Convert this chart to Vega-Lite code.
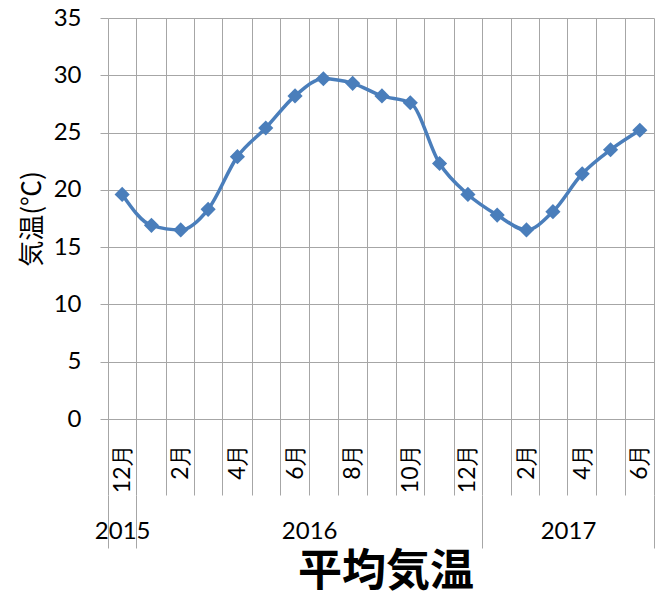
{
  "$schema": "https://vega.github.io/schema/vega-lite/v6.json",
  "width": 546,
  "height": 401,
  "autosize": {"type": "none"},
  "padding": {"left": 108, "top": 18, "right": 10, "bottom": 179},
  "background": "white",
  "config": {"view": {"stroke": null}, "font": "Lato"},
  "title": {"text": "平均気温", "orient": "bottom", "anchor": "middle", "font": "Noto Sans CJK JP", "fontSize": 44, "fontWeight": "bold", "offset": 2, "dx": 5, "color": "#000000"},
  "data": {"values": [
    {"date": "2015-12-01", "temp": 19.6},
    {"date": "2016-01-01", "temp": 16.9},
    {"date": "2016-02-01", "temp": 16.5},
    {"date": "2016-03-01", "temp": 18.3},
    {"date": "2016-04-01", "temp": 22.9},
    {"date": "2016-05-01", "temp": 25.4},
    {"date": "2016-06-01", "temp": 28.2},
    {"date": "2016-07-01", "temp": 29.7},
    {"date": "2016-08-01", "temp": 29.3},
    {"date": "2016-09-01", "temp": 28.2},
    {"date": "2016-10-01", "temp": 27.6},
    {"date": "2016-11-01", "temp": 22.3},
    {"date": "2016-12-01", "temp": 19.6},
    {"date": "2017-01-01", "temp": 17.8},
    {"date": "2017-02-01", "temp": 16.5},
    {"date": "2017-03-01", "temp": 18.1},
    {"date": "2017-04-01", "temp": 21.4},
    {"date": "2017-05-01", "temp": 23.5},
    {"date": "2017-06-01", "temp": 25.2}
  ]},
  "layer": [
    {
      "mark": {"type": "line", "interpolate": "monotone", "color": "#4a7ebb", "strokeWidth": 3.5},
      "encoding": {
        "x": {"field": "date", "type": "temporal",
          "scale": {"type": "utc", "domain": [{"year": 2015, "month": 11, "date": 16, "utc": true}, {"year": 2017, "month": 6, "date": 16, "utc": true}]},
          "axis": {"title": null, "orient": "bottom", "grid": true, "gridColor": "#a6a6a6", "ticks": true, "tickSize": 76,
            "tickColor": "#a6a6a6", "domain": true, "domainColor": "#a6a6a6", "labels": false,
            "values": [
              {"year": 2015, "month": 11, "date": 16, "utc": true}, {"year": 2015, "month": 12, "date": 16, "utc": true},
              {"year": 2016, "month": 1, "date": 16, "utc": true}, {"year": 2016, "month": 2, "date": 15, "utc": true},
              {"year": 2016, "month": 3, "date": 16, "utc": true}, {"year": 2016, "month": 4, "date": 16, "utc": true},
              {"year": 2016, "month": 5, "date": 16, "utc": true}, {"year": 2016, "month": 6, "date": 16, "utc": true},
              {"year": 2016, "month": 7, "date": 16, "utc": true}, {"year": 2016, "month": 8, "date": 16, "utc": true},
              {"year": 2016, "month": 9, "date": 16, "utc": true}, {"year": 2016, "month": 10, "date": 16, "utc": true},
              {"year": 2016, "month": 11, "date": 16, "utc": true}, {"year": 2016, "month": 12, "date": 16, "utc": true},
              {"year": 2017, "month": 1, "date": 16, "utc": true}, {"year": 2017, "month": 2, "date": 14, "utc": true},
              {"year": 2017, "month": 3, "date": 16, "utc": true}, {"year": 2017, "month": 4, "date": 16, "utc": true},
              {"year": 2017, "month": 5, "date": 16, "utc": true}, {"year": 2017, "month": 6, "date": 16, "utc": true}
            ]}},
        "y": {"field": "temp", "type": "quantitative", "scale": {"domain": [0, 35], "nice": false},
          "axis": {"title": "気温(℃)", "values": [0, 5, 10, 15, 20, 25, 30, 35], "grid": true, "gridColor": "#a6a6a6",
            "tickColor": "#a6a6a6", "tickSize": 8, "domain": false, "labelFontSize": 24, "labelPadding": 19, "labelColor": "#000000",
            "titleFontSize": 26, "titleFont": "Noto Sans CJK JP", "titleColor": "#000000", "titlePadding": 8, "titleFontWeight": "normal"}}
      }
    },
    {
      "mark": {"type": "point", "shape": "diamond", "filled": true, "size": 230, "color": "#4a7ebb", "opacity": 1},
      "encoding": {
        "x": {"field": "date", "type": "temporal", "scale": {"type": "utc"},
          "axis": {"title": null, "orient": "bottom", "grid": false, "ticks": false, "domain": false,
            "labelAngle": 270, "labelPadding": 24, "labelFontSize": 23, "labelColor": "#000000",
            "labelExpr": "utcFormat(datum.value, '%-m') + '月'",
            "values": [
              {"year": 2015, "month": 12, "date": 1, "utc": true}, {"year": 2016, "month": 2, "date": 1, "utc": true},
              {"year": 2016, "month": 4, "date": 1, "utc": true}, {"year": 2016, "month": 6, "date": 1, "utc": true},
              {"year": 2016, "month": 8, "date": 1, "utc": true}, {"year": 2016, "month": 10, "date": 1, "utc": true},
              {"year": 2016, "month": 12, "date": 1, "utc": true}, {"year": 2017, "month": 2, "date": 1, "utc": true},
              {"year": 2017, "month": 4, "date": 1, "utc": true}, {"year": 2017, "month": 6, "date": 1, "utc": true}
            ]}},
        "y": {"field": "temp", "type": "quantitative"}
      }
    },
    {
      "mark": {"type": "point", "opacity": 0},
      "encoding": {
        "x": {"field": "date", "type": "temporal", "scale": {"type": "utc"},
          "axis": {"title": null, "orient": "bottom", "offset": 76, "grid": false, "ticks": true, "tickSize": 53,
            "tickColor": "#a6a6a6", "domain": false, "labels": false,
            "values": [
              {"year": 2015, "month": 11, "date": 16, "utc": true}, {"year": 2015, "month": 12, "date": 16, "utc": true},
              {"year": 2016, "month": 12, "date": 16, "utc": true}, {"year": 2017, "month": 6, "date": 16, "utc": true}
            ]}},
        "y": {"field": "temp", "type": "quantitative"}
      }
    },
    {
      "mark": {"type": "point", "opacity": 0},
      "encoding": {
        "x": {"field": "date", "type": "temporal", "scale": {"type": "utc"},
          "axis": {"title": null, "orient": "bottom", "offset": 100, "grid": false, "ticks": false, "domain": false,
            "labelAngle": 0, "labelPadding": 0, "labelFontSize": 24, "labelColor": "#000000", "labelBaseline": "top",
            "labelExpr": "utcFormat(datum.value, '%Y')",
            "values": [
              {"year": 2015, "month": 12, "date": 1, "utc": true},
              {"year": 2016, "month": 6, "date": 16, "utc": true},
              {"year": 2017, "month": 3, "date": 17, "utc": true}
            ]}},
        "y": {"field": "temp", "type": "quantitative"}
      }
    }
  ],
  "resolve": {"axis": {"x": "independent"}}
}
